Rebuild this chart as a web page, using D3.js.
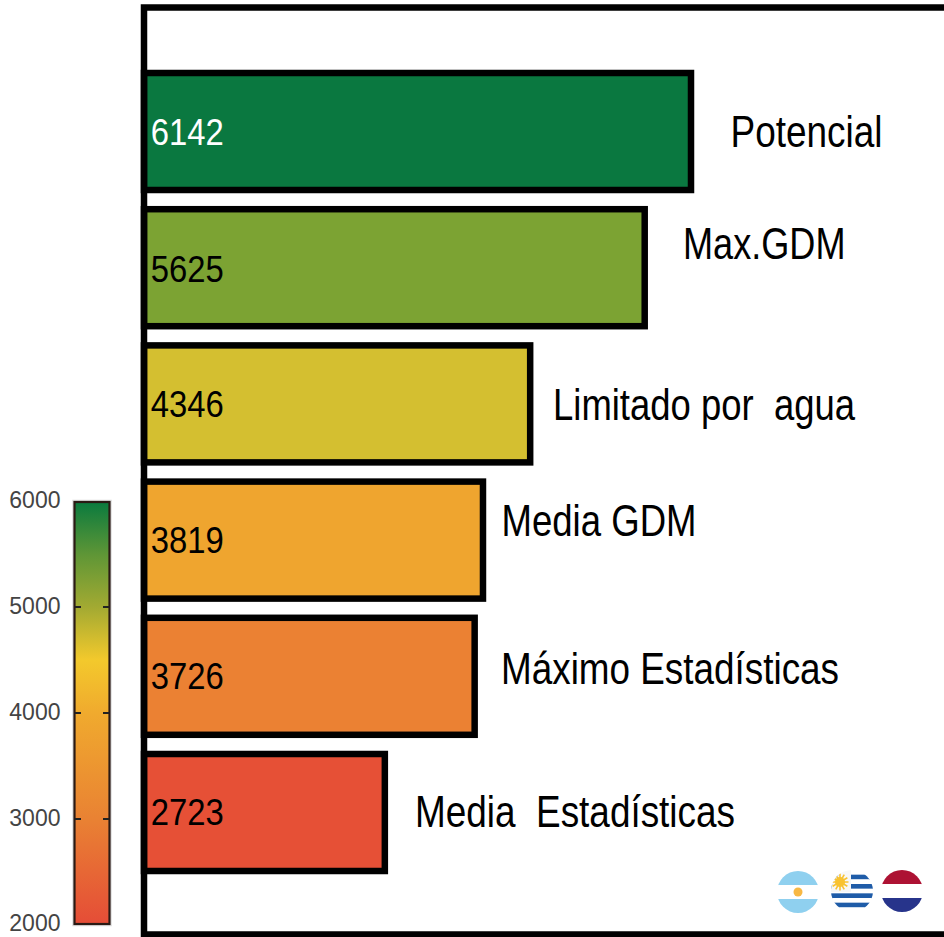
<!DOCTYPE html>
<html>
<head>
<meta charset="utf-8">
<script src="https://cdn.jsdelivr.net/npm/d3@7"></script>
<style>
  html, body { margin: 0; padding: 0; background: #fff; }
  svg { display: block; }
  text { font-family: "Liberation Sans", Arial, sans-serif; white-space: pre; }
</style>
</head>
<body>
<div id="chart"></div>
<script>
// data
var categories = ["Potencial", "Max.GDM", "Limitado por  agua", "Media GDM", "Máximo Estadísticas", "Media  Estadísticas"];
var values = [6142, 5625, 4346, 3819, 3726, 2723];
var barColors = ["#0a7840", "#7ca333", "#d4bf30", "#efa52f", "#eb8133", "#e65036"];
var valueColors = ["#ffffff", "#000000", "#000000", "#000000", "#000000", "#000000"];
var legendTicks = [2000, 3000, 4000, 5000, 6000];
var legendStops = [2000, 3000, 4000, 4500, 5000, 5500, 6000];
var legendColors = ["#e54d37", "#e98233", "#f0aa2e", "#f3c92c", "#a3aa32", "#5f9636", "#0a7a3e"];

var width = 944, height = 937;

var svg = d3.select("#chart")
  .append("svg")
  .attr("width", width)
  .attr("height", height);

// Scales
var x = d3.scaleLinear().domain([0, 6142]).range([141, 691]);
var y = d3.scaleBand().domain(categories).range([73, 871]).paddingInner(0.141).paddingOuter(0);
var legendY = d3.scaleLinear().domain([2000, 6000]).range([925, 501]);

// label nudges, the labels do not sit centred on the bars
var labelX = [730.5, 683, 553, 501.5, 501, 415];
var labelDy = [15.7, -8.9, 16.6, -4.6, 7.5, 14.7];
var labelLen = [152, 162.5, 302, 195, 338, 320];
var valueDy = [13.5, 14.3, 12.8, 12.6, 13, 12.5];

// bars
svg.selectAll(".bar")
  .data(values)
  .enter().append("rect")
  .attr("class", "bar")
  .attr("x", 144)
  .attr("y", function(d, i) { return y(categories[i]); })
  .attr("width", function(d) { return x(d) - 144; })
  .attr("height", y.bandwidth())
  .attr("fill", function(d, i) { return barColors[i]; })
  .attr("stroke", "#000")
  .attr("stroke-width", 6.5);

// frame, open on the right
svg.append("path")
  .attr("d", "M944,7.5H144V934.5H944")
  .attr("fill", "none")
  .attr("stroke", "#000")
  .attr("stroke-width", 6.5);

// value labels
svg.selectAll(".value")
  .data(values)
  .enter().append("text")
  .attr("class", "value")
  .attr("x", 150.8)
  .attr("y", function(d, i) { return y(categories[i]) + y.bandwidth() / 2 + valueDy[i]; })
  .attr("textLength", 73)
  .attr("lengthAdjust", "spacingAndGlyphs")
  .attr("font-size", 37.5)
  .attr("fill", function(d, i) { return valueColors[i]; })
  .text(function(d) { return d; });

// category labels
svg.selectAll(".label")
  .data(categories)
  .enter().append("text")
  .attr("class", "label")
  .attr("x", function(d, i) { return labelX[i]; })
  .attr("y", function(d, i) { return y(d) + y.bandwidth() / 2 + labelDy[i]; })
  .attr("textLength", function(d, i) { return labelLen[i]; })
  .attr("lengthAdjust", "spacingAndGlyphs")
  .attr("font-size", 43.5)
  .attr("fill", "#000")
  .text(function(d) { return d; });

// colour legend
var defs = svg.append("defs");
var grad = defs.append("linearGradient")
  .attr("id", "legendGrad")
  .attr("x1", 0).attr("x2", 0).attr("y1", 1).attr("y2", 0);
grad.selectAll("stop")
  .data(legendStops)
  .enter().append("stop")
  .attr("offset", function(d) { return (d - 2000) / 4000; })
  .attr("stop-color", function(d, i) { return legendColors[i]; });

// soft halo round the bar
svg.append("rect")
  .attr("x", 74.5)
  .attr("y", legendY(6000) + 1)
  .attr("width", 35)
  .attr("height", legendY(2000) - legendY(6000) - 2)
  .attr("fill", "none")
  .attr("stroke", "#dcdcdc")
  .attr("stroke-width", 4.5);

svg.append("rect")
  .attr("x", 74.5)
  .attr("y", legendY(6000) + 1)
  .attr("width", 35)
  .attr("height", legendY(2000) - legendY(6000) - 2)
  .attr("fill", "url(#legendGrad)")
  .attr("stroke", "#2a1a14")
  .attr("stroke-width", 2.2);

// inner ticks
var ticks = legendTicks.slice(1, -1);
[[75, 81], [103, 109]].forEach(function(t) {
  svg.selectAll(null)
    .data(ticks)
    .enter().append("line")
    .attr("x1", t[0]).attr("x2", t[1])
    .attr("y1", function(d) { return legendY(d); })
    .attr("y2", function(d) { return legendY(d); })
    .attr("stroke", "#222")
    .attr("stroke-width", 2);
});

svg.selectAll(".legendLabel")
  .data(legendTicks)
  .enter().append("text")
  .attr("class", "legendLabel")
  .attr("x", 60.5)
  .attr("y", function(d) { return legendY(d) + (d === 2000 ? 6 : 7); })
  .attr("text-anchor", "end")
  .attr("font-size", 23)
  .attr("fill", "#444")
  .text(function(d) { return d; });

// flags
var flagR = 21;
function flag(id, cx, cy) {
  defs.append("clipPath").attr("id", id)
    .append("circle").attr("cx", cx).attr("cy", cy).attr("r", flagR);
  return svg.append("g").attr("clip-path", "url(#" + id + ")");
}
function bands(g, cx, cy, rows) {
  var h = 2 * flagR / rows.length;
  rows.forEach(function(c, i) {
    g.append("rect")
      .attr("x", cx - flagR).attr("y", cy - flagR + i * h)
      .attr("width", 2 * flagR).attr("height", h + 0.3)
      .attr("fill", c);
  });
}

var ar = flag("flagAr", 798, 892);
bands(ar, 798, 892, ["#8fd0ef", "#ffffff", "#8fd0ef"]);
ar.append("circle").attr("cx", 798).attr("cy", 892).attr("r", 4.5).attr("fill", "#f8b844");

var uy = flag("flagUy", 852, 891);
bands(uy, 852, 891, ["#ffffff", "#1f5ca8", "#ffffff", "#1f5ca8", "#ffffff", "#1f5ca8", "#ffffff", "#1f5ca8", "#ffffff"]);
uy.append("rect").attr("x", 831).attr("y", 870).attr("width", 20).attr("height", 22).attr("fill", "#f7f7f7");
uy.selectAll("line")
  .data(d3.range(12))
  .enter().append("line")
  .attr("x1", 840).attr("y1", 882)
  .attr("x2", function(d) { return 840 + 8.5 * Math.cos(d * Math.PI / 6); })
  .attr("y2", function(d) { return 882 + 8.5 * Math.sin(d * Math.PI / 6); })
  .attr("stroke", "#f8c230")
  .attr("stroke-width", 1.6);
uy.append("circle").attr("cx", 840).attr("cy", 882).attr("r", 5).attr("fill", "#f8c230");

var nl = flag("flagNl", 902, 891);
bands(nl, 902, 891, ["#ad1233", "#ffffff", "#27348b"]);
</script>
</body>
</html>
